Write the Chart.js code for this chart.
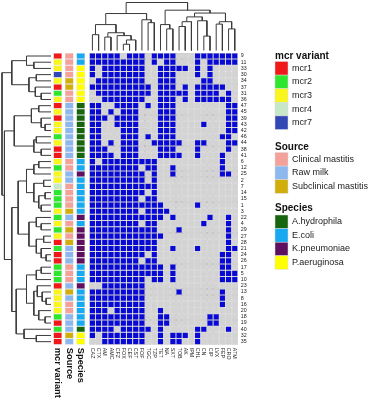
<!DOCTYPE html>
<html>
<head>
<meta charset="utf-8">
<script src="https://cdn.jsdelivr.net/npm/chart.js@4.4.1/dist/chart.umd.min.js"></script>
<style>
  html, body { margin: 0; padding: 0; background: #fff; }
  #wrap { width: 375px; height: 400px; }
</style>
</head>
<body>
<div id="wrap"><canvas id="heatmap" width="375" height="400"></canvas></div>
<script>
const colLabels = ['CAZ', 'CTX', 'AM', 'AMC', 'CFZ', 'FOX', 'CEF', 'CST', 'FOF', 'TGC', 'TZP', 'TET',
    'NA', 'SXT', 'TOB', 'AK', 'IPM', 'CHL', 'CN', 'CIP', 'LVX', 'FEP', 'CRO', 'ATM'];

const rowLabels = ['9', '11', '33', '30', '34', '37', '31', '36', '47', '45', '39', '43', '42', '46',
    '44', '38', '41', '6', '12', '25', '2', '7', '14', '15', '1', '3', '22', '4', '29', '27', '28',
    '21', '24', '26', '17', '5', '10', '23', '13', '8', '16', '20', '18', '19', '40', '32', '35'];

// 1 = resistant (blue), 0 = not (grey); one string per row, in colLabels order
const resistance = [
    '111110111011110001111111', '111111111010110001011111', '101111111001111101010000',
    '101111111001110001010000', '011111111001110000110000', '111111111101110101111100',
    '011111111101111101111010', '001111111001110101111110', '110011110101110000000011',
    '110101110001110000000011', '111011110001110000000011', '110011110001110000100011',
    '110001110001110000000011', '110001110101110000000110', '110101110011111001100011',
    '111001110001110001000010', '111101110001111001000100', '101111111110000000000100',
    '111111110110010000000100', '111111111010010000000110', '111111111010000000000000',
    '111111111110000000000000', '111111111010000000000000', '111111110110000000000000',
    '111111111111000001000000', '111111110111100000000000', '111111111111010000010010',
    '111111110110000000100010', '111111111110001000000010', '111111111111000000000010',
    '111111111110000000000010', '111111111110010001000011', '111111111010000000000110',
    '111111110110000000000110', '111111111111010000000110', '111111111111010000000111',
    '111111111011010000000111', '001111111000000000000000', '111111111000001000000100',
    '111111111000000000000100', '111111111000000000000100', '111011111001000000000000',
    '111111111001100000011000', '111111111001100000011000', '111101111101000001100010',
    '101111111001011101000000', '001111111001011001000000'
];

const mcrVariant = ['mcr1', 'mcr3', 'mcr3', 'mcr7', 'mcr3', 'mcr1', 'mcr2', 'mcr3', 'mcr1', 'mcr3',
    'mcr1', 'mcr3', 'mcr3', 'mcr2', 'mcr3', 'mcr1', 'mcr1', 'mcr3', 'mcr2', 'mcr3', 'mcr3', 'mcr4',
    'mcr2', 'mcr2', 'mcr2', 'mcr3', 'mcr2', 'mcr3', 'mcr2', 'mcr3', 'mcr1', 'mcr2', 'mcr1', 'mcr1',
    'mcr2', 'mcr2', 'mcr2', 'mcr1', 'mcr3', 'mcr3', 'mcr3', 'mcr3', 'mcr2', 'mcr1', 'mcr2', 'mcr1', 'mcr1'];

// C = Clinical mastitis, R = Raw milk, S = Subclinical mastitis
const source = 'CCCCSSCCRRRRRRRRRCCRRCCCCSRCSCSRRRCCCRSRCCRRRSR'.split('');

// A = A.hydrophila, E = E.coli, K = K.pneumoniae, P = P.aeruginosa
const species = 'EEPPPPPPAAAAAAAAAEEKEEEEEEKEKKKKKKEEEKEEEEEEAPP'.split('');

// dendrograms: [left, right, height]; leaves are positions in the drawn order
const colTree = [
    [[[0, 1, .33], [[2, 3, .28], [4, [[5, 6, .13], 7, .22], .31], .37], .54], [8, [9, 10, .58], .64], .77],
    [[11, [12, 13, .45], .54], [[[[14, 15, .5], 16, .6], [17, [18, 19, .3], .62], .7], [[20, 21, .55], [22, 23, .45], .6], .78], .84],
    1];

const rowTree = [
    [[0, [1, 2, .35], .5], [[3, 4, .3], [5, [6, 7, .2], .32], .45], .8],
    [
        [[[8, 9, .25], [10, [11, 12, .12], .2], .4], [[13, 14, .3], [15, 16, .2], .35], .75],
        [
            [
                [[[17, 18, .25], 19, .35], [[20, 21, .15], [[22, 23, .12], [24, 25, .2], .25], .35], .5],
                [[26, [27, 28, .2], .3], [[29, 30, .15], [31, [32, 33, .1], .2], .3], .45],
                .67],
            [
                [[[34, 35, .2], 36, .3], [[37, [38, [39, 40, .1], .18], .28], [41, [42, 43, .12], .25], .35], .5],
                [44, [45, 46, .3], .55],
                .71],
            .8],
        .95],
    1];

// ---- styles and layout ----
const BLUE = '#0909d6';
const GREY = '#d3d3d3';
const CELL_BORDER = '#a4a4a4';
const DENDRO = '#3a3a3a';

const mcrColors = { mcr1: '#f01818', mcr2: '#2ee62e', mcr3: '#f9f61e', mcr4: '#c6e8c8', mcr7: '#3347b4' };
const sourceNames = { C: 'Clinical mastitis', R: 'Raw milk', S: 'Subclinical mastitis' };
const sourceColors = { C: '#f4a09b', R: '#8cb8ef', S: '#d2ae0c' };
const speciesNames = { A: 'A.hydrophila', E: 'E.coli', K: 'K.pneumoniae', P: 'P.aeruginosa' };
const speciesColors = { A: '#17660f', E: '#17aaf0', K: '#5f0f60', P: '#ffff00' };

const W = 375, H = 400;
const GRID_LEFT = 89.3, GRID_TOP = 52.9, CELL_W = 6.19, CELL_H = 6.21;
const ROW_DENDRO = { leaf: 51, root: 2 };   // px along x
const COL_DENDRO = { leaf: 50.5, root: 2.5 }; // px along y

// annotation tracks, in column units left of the grid
const tracks = [
    { name: 'mcr variant', from: -5.82, to: -4.4, values: mcrVariant, colors: mcrColors },
    { name: 'Source', from: -3.95, to: -2.53, values: source, colors: sourceColors },
    { name: 'Species', from: -2.1, to: -0.68, values: species, colors: speciesColors }
];

const legendGroups = [
    { title: 'mcr variant', top: 61.5, titleY: 58.5, keys: Object.keys(mcrColors), names: k => k, colors: mcrColors },
    { title: 'Source', top: 152.5, titleY: 149.5, keys: Object.keys(sourceColors), names: k => sourceNames[k], colors: sourceColors },
    { title: 'Species', top: 215, titleY: 210.5, keys: Object.keys(speciesColors), names: k => speciesNames[k], colors: speciesColors }
];
const LEGEND_X = 275, SW_W = 13, SW_H = 13.6;
const FONT = '"Liberation Sans", Arial, sans-serif';

// ---- build datasets ----
function treeSegments(node, out) {
    if (typeof node === 'number') return { pos: node + 0.5, h: 0 };
    const l = treeSegments(node[0], out);
    const r = treeSegments(node[1], out);
    const h = node[2];
    out.push([l.pos, l.h], [l.pos, h], [r.pos, h], [r.pos, r.h], null);
    return { pos: (l.pos + r.pos) / 2, h };
}

const colSegs = []; treeSegments(colTree, colSegs);
const rowSegs = []; treeSegments(rowTree, rowSegs);

const cells = [];
resistance.forEach((row, i) => {
    row.split('').forEach((v, j) => cells.push({ y: i + 0.5, x: [j, j + 1], v: +v }));
});

const barBase = {
    type: 'bar',
    indexAxis: 'y',
    grouped: false,
    categoryPercentage: 1,
    barPercentage: 1,
    borderSkipped: false,
    borderWidth: 0.5,
    inflateAmount: 0,
    xAxisID: 'x',
    yAxisID: 'y'
};

const datasets = [
    Object.assign({}, barBase, {
        data: cells,
        backgroundColor: c => (c.raw && c.raw.v ? BLUE : GREY),
        borderColor: CELL_BORDER
    }),
    ...tracks.map(t => Object.assign({}, barBase, {
        data: t.values.map((v, i) => ({ y: i + 0.5, x: [t.from, t.to], k: v })),
        backgroundColor: c => (c.raw ? t.colors[c.raw.k] : '#fff'),
        borderColor: '#d8d8d8'
    })),
    {
        type: 'line',
        indexAxis: 'x',
        xAxisID: 'x',
        yAxisID: 'yTop',
        data: colSegs.map(p => (p ? { x: p[0], y: p[1] } : { x: null, y: null })),
        borderColor: DENDRO,
        borderWidth: 1,
        pointRadius: 0,
        fill: false,
        tension: 0
    },
    {
        type: 'line',
        indexAxis: 'x',
        xAxisID: 'xLeft',
        yAxisID: 'y',
        data: rowSegs.map(p => (p ? { x: p[1], y: p[0] } : { x: null, y: null })),
        borderColor: DENDRO,
        borderWidth: 1,
        pointRadius: 0,
        fill: false,
        tension: 0
    }
];

// scale ranges so that the (hidden) axes span the whole canvas
const xMin = -GRID_LEFT / CELL_W;
const yMin = -GRID_TOP / CELL_H;
const topPx = COL_DENDRO.leaf - COL_DENDRO.root;   // px per unit of height
const leftPx = ROW_DENDRO.leaf - ROW_DENDRO.root;

const textPlugin = {
    id: 'heatmapText',
    afterDraw(chart) {
        const { ctx } = chart;
        const x = chart.scales.x, y = chart.scales.y;
        ctx.save();
        ctx.fillStyle = '#222';
        ctx.textAlign = 'left';
        ctx.textBaseline = 'middle';

        ctx.font = '5.3px ' + FONT;
        const labX = x.getPixelForValue(colLabels.length) + 3;
        rowLabels.forEach((lab, i) => ctx.fillText(lab, labX, y.getPixelForValue(i + 0.5)));

        const bottom = y.getPixelForValue(rowLabels.length) + 3;
        colLabels.forEach((lab, j) => {
            ctx.save();
            ctx.translate(x.getPixelForValue(j + 0.5), bottom);
            ctx.rotate(Math.PI / 2);
            ctx.fillText(lab, 0, 0);
            ctx.restore();
        });

        ctx.fillStyle = '#111';
        ctx.font = 'bold 9.3px ' + FONT;
        tracks.forEach(t => {
            ctx.save();
            ctx.translate(x.getPixelForValue((t.from + t.to) / 2), bottom);
            ctx.rotate(Math.PI / 2);
            ctx.fillText(t.name, 0, 0);
            ctx.restore();
        });

        // legend
        legendGroups.forEach(g => {
            ctx.font = 'bold 10px ' + FONT;
            ctx.textBaseline = 'alphabetic';
            ctx.fillStyle = '#111';
            ctx.fillText(g.title, LEGEND_X, g.titleY);
            ctx.font = '9px ' + FONT;
            ctx.textBaseline = 'middle';
            g.keys.forEach((k, n) => {
                const top = g.top + n * SW_H;
                ctx.fillStyle = g.colors[k];
                ctx.fillRect(LEGEND_X, top, SW_W, SW_H);
                ctx.strokeStyle = '#dcdcdc';
                ctx.lineWidth = 0.5;
                ctx.strokeRect(LEGEND_X, top, SW_W, SW_H);
                ctx.fillStyle = '#222';
                ctx.fillText(g.names(k), LEGEND_X + SW_W + 4, top + SW_H / 2);
            });
        });
        ctx.restore();
    }
};

new Chart(document.getElementById('heatmap'), {
    type: 'bar',
    data: { datasets },
    options: {
        responsive: false,
        devicePixelRatio: 1,
        animation: false,
        indexAxis: 'y',
        layout: { padding: 0 },
        plugins: { legend: { display: false }, tooltip: { enabled: false } },
        scales: {
            x: { type: 'linear', axis: 'x', display: false, offset: false, min: xMin, max: xMin + W / CELL_W },
            y: { type: 'linear', axis: 'y', display: false, offset: false, reverse: true, min: yMin, max: yMin + H / CELL_H },
            yTop: {
                type: 'linear', axis: 'y', display: false, offset: false,
                max: COL_DENDRO.leaf / topPx, min: COL_DENDRO.leaf / topPx - H / topPx
            },
            xLeft: {
                type: 'linear', axis: 'x', display: false, offset: false, reverse: true,
                max: ROW_DENDRO.leaf / leftPx, min: ROW_DENDRO.leaf / leftPx - W / leftPx
            }
        }
    },
    plugins: [textPlugin]
});
</script>
</body>
</html>
